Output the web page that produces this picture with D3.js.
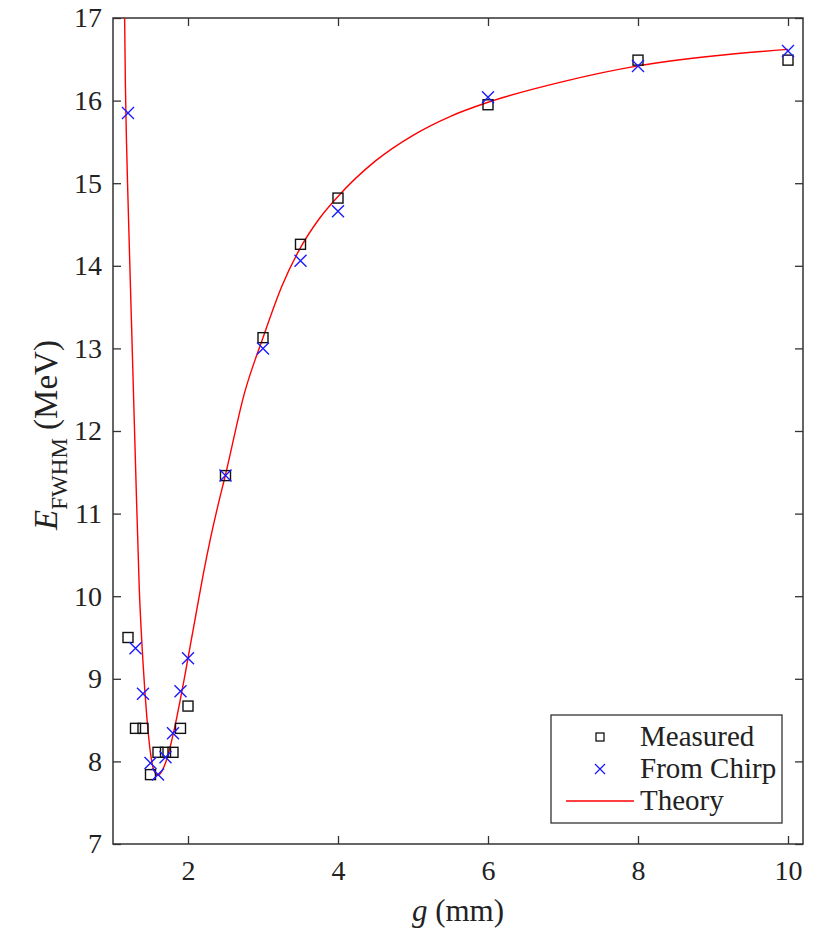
<!DOCTYPE html>
<html>
<head>
<meta charset="utf-8">
<script src="https://cdn.jsdelivr.net/npm/d3@7"></script>
<style>
  html, body { margin: 0; padding: 0; background: #fff; }
  svg { display: block; }
  text { font-family: "Liberation Serif", "Times New Roman", serif; fill: #222; }
</style>
</head>
<body>
<svg id="chart" width="814" height="930"></svg>
<script>
// Gap g (mm) at which each spectrum was taken
const gapValues = [1.2, 1.3, 1.4, 1.5, 1.6, 1.7, 1.8, 1.9, 2.0, 2.5, 3.0, 3.5, 4.0, 6.0, 8.0, 10.0];
// Measured energy spread (MeV)
const measuredValues = [9.50, 8.40, 8.40, 7.84, 8.11, 8.11, 8.11, 8.40, 8.67, 11.46, 13.13, 14.26, 14.82, 15.95, 16.49, 16.49];
// Energy spread recovered from the chirp (MeV)
const chirpValues = [15.85, 9.37, 8.82, 7.98, 7.84, 8.05, 8.34, 8.85, 9.25, 11.46, 13.00, 14.06, 14.66, 16.04, 16.42, 16.60];
// Theory curve, sampled along g
const theoryGap = [1.155, 1.165, 1.18, 1.2, 1.25, 1.3, 1.35, 1.4, 1.45, 1.5, 1.55, 1.6, 1.65, 1.7, 1.75, 1.8, 1.85, 1.9, 1.95, 2.0, 2.1, 2.2, 2.3, 2.4, 2.5, 2.75, 3.0, 3.25, 3.5, 3.75, 4.0, 4.5, 5.0, 5.5, 6.0, 7.0, 8.0, 9.0, 10.0];
const theoryValues = [17.0, 16.2, 15.5, 14.8, 13.2, 11.6, 10.1, 9.2, 8.55, 8.1, 7.88, 7.83, 7.88, 7.98, 8.13, 8.32, 8.53, 8.76, 9.0, 9.25, 9.75, 10.25, 10.7, 11.1, 11.47, 12.45, 13.13, 13.75, 14.22, 14.57, 14.84, 15.27, 15.58, 15.81, 15.98, 16.23, 16.42, 16.54, 16.62];

const xTicks = [2, 4, 6, 8, 10];
const yTicks = [7, 8, 9, 10, 11, 12, 13, 14, 15, 16, 17];
const legendLabels = ["Measured", "From Chirp", "Theory"];

const serif = '"Liberation Serif", "Times New Roman", serif';
const svg = d3.select("#chart");
const margin = { left: 113, right: 11, top: 18, bottom: 86 };
const W = 814, H = 930;
const plotW = W - margin.left - margin.right;
const plotH = H - margin.top - margin.bottom;

const x = d3.scaleLinear().domain([1, 10.2]).range([margin.left, margin.left + plotW]);
const y = d3.scaleLinear().domain([7, 17]).range([margin.top + plotH, margin.top]);

const axisColor = "#333";
const tickLen = 8;

// Plot area clip
svg.append("defs").append("clipPath").attr("id", "plotClip")
  .append("rect")
  .attr("x", margin.left).attr("y", margin.top)
  .attr("width", plotW).attr("height", plotH);

// Axes with inward ticks on all four sides
function styleAxis(g) {
  g.attr("font-family", serif).attr("font-size", 28);
  g.select(".domain").remove();
  g.selectAll(".tick line").attr("stroke", axisColor).attr("stroke-width", 1.3);
  g.selectAll(".tick text").attr("fill", "#2a2a2a");
}

svg.append("g")
  .attr("transform", `translate(0,${y(7)})`)
  .call(d3.axisBottom(x).tickValues(xTicks).tickSize(-tickLen).tickPadding(16).tickFormat(d3.format("d")))
  .call(styleAxis);

svg.append("g")
  .attr("transform", `translate(0,${y(17)})`)
  .call(d3.axisTop(x).tickValues(xTicks).tickSize(-tickLen).tickFormat(""))
  .call(styleAxis);

svg.append("g")
  .attr("transform", `translate(${x(1)},0)`)
  .call(d3.axisLeft(y).tickValues(yTicks).tickSize(-tickLen).tickPadding(11).tickFormat(d3.format("d")))
  .call(styleAxis);

svg.append("g")
  .attr("transform", `translate(${x(10.2)},0)`)
  .call(d3.axisRight(y).tickValues(yTicks).tickSize(-tickLen).tickFormat(""))
  .call(styleAxis);

// Frame
svg.append("rect")
  .attr("x", margin.left).attr("y", margin.top)
  .attr("width", plotW).attr("height", plotH)
  .attr("fill", "none").attr("stroke", axisColor).attr("stroke-width", 1.5);

const plot = svg.append("g").attr("clip-path", "url(#plotClip)");

// Theory curve
const theoryData = theoryGap.map((g, i) => [g, theoryValues[i]]);
plot.append("path")
  .datum(theoryData)
  .attr("fill", "none")
  .attr("stroke", "#ff0000")
  .attr("stroke-width", 1.4)
  .attr("d", d3.line().x(d => x(d[0])).y(d => y(d[1])).curve(d3.curveMonotoneX));

// Measured: open squares
const sq = 10;
plot.selectAll("rect.measured")
  .data(gapValues.map((g, i) => [g, measuredValues[i]]))
  .join("rect")
  .attr("class", "measured")
  .attr("x", d => x(d[0]) - sq / 2).attr("y", d => y(d[1]) - sq / 2)
  .attr("width", sq).attr("height", sq)
  .attr("fill", "none").attr("stroke", "#111").attr("stroke-width", 1.4);

// From chirp: blue crosses
const cr = 6;
const crossPath = (cx, cy) => `M${cx - cr},${cy - cr}L${cx + cr},${cy + cr}M${cx - cr},${cy + cr}L${cx + cr},${cy - cr}`;
plot.selectAll("path.chirp")
  .data(gapValues.map((g, i) => [g, chirpValues[i]]))
  .join("path")
  .attr("class", "chirp")
  .attr("d", d => crossPath(x(d[0]), y(d[1])))
  .attr("fill", "none").attr("stroke", "#1a1aff").attr("stroke-width", 1.4);

// Axis titles
svg.append("text")
  .attr("x", (x(1) + x(10.2)) / 2).attr("y", 921)
  .attr("text-anchor", "middle")
  .style("font-size", "31px")
  .html('<tspan font-style="italic">g</tspan> (mm)');

const yl = svg.append("text")
  .attr("transform", `translate(57,${y(12) + 4}) rotate(-90)`)
  .attr("text-anchor", "middle")
  .style("font-size", "33px");
yl.append("tspan").attr("font-style", "italic").text("E");
yl.append("tspan").attr("dy", 10).style("font-size", "23px").text("FWHM");
yl.append("tspan").attr("dy", -10).text(" (MeV)");

// Legend
const lg = svg.append("g").attr("transform", "translate(551,715)");
lg.append("rect").attr("width", 231).attr("height", 108)
  .attr("fill", "#fff").attr("stroke", axisColor).attr("stroke-width", 1.3);
const rowY = [22, 54, 86];
const mx = 49;
lg.append("rect").attr("x", mx - 4).attr("y", rowY[0] - 4).attr("width", 8).attr("height", 8)
  .attr("fill", "none").attr("stroke", "#111").attr("stroke-width", 1.3);
lg.append("path").attr("d", `M${mx - 5},${rowY[1] - 5}L${mx + 5},${rowY[1] + 5}M${mx - 5},${rowY[1] + 5}L${mx + 5},${rowY[1] - 5}`)
  .attr("stroke", "#1a1aff").attr("stroke-width", 1.3);
lg.append("line").attr("x1", 15).attr("x2", 83).attr("y1", rowY[2]).attr("y2", rowY[2])
  .attr("stroke", "#ff0000").attr("stroke-width", 1.4);
lg.selectAll("text.lab").data(legendLabels).join("text")
  .attr("class", "lab")
  .attr("x", 89).attr("y", (d, i) => rowY[i] + 9)
  .style("font-size", "29px")
  .text(d => d);
</script>
</body>
</html>
